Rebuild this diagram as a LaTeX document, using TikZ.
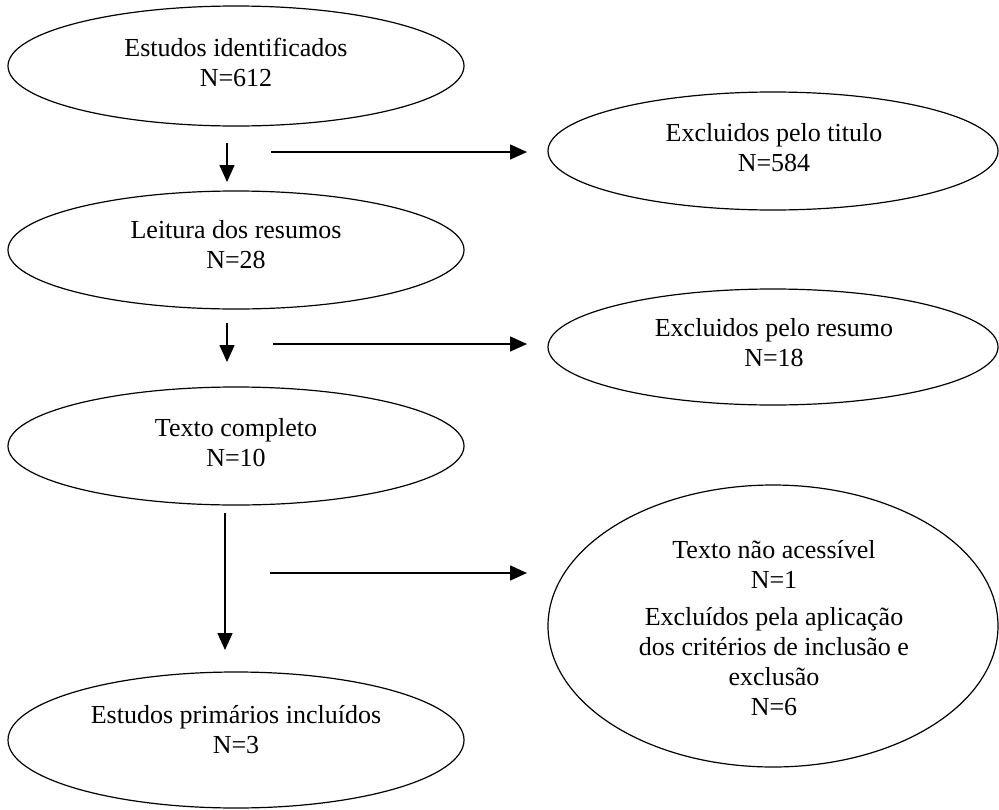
\documentclass[tikz,border=0pt]{standalone}
\usepackage{fontspec}
\setmainfont{Liberation Serif}
\usetikzlibrary{shapes.geometric,arrows.meta}
\begin{document}
\begin{tikzpicture}[x=1pt,y=-1pt,
  ell/.style={draw, ellipse, line width=1.2pt, inner sep=0pt},
  txt/.style={align=center, font=\fontsize{26}{30}\selectfont, inner sep=0pt},
  arr/.style={line width=1.5pt, -{Triangle[length=17pt,width=15pt]}}]
\useasboundingbox (0,0) rectangle (999,809);
% ellipses
\node[ell, minimum width=456pt, minimum height=120pt] (e1) at (236,66) {};
\node[ell, minimum width=450pt, minimum height=118pt] (e2) at (773,151) {};
\node[ell, minimum width=456pt, minimum height=118pt] (e3) at (236,250) {};
\node[ell, minimum width=450pt, minimum height=116pt] (e4) at (773,347) {};
\node[ell, minimum width=456pt, minimum height=118pt] (e5) at (236,446) {};
\node[ell, minimum width=450pt, minimum height=282pt] (e6) at (773,626) {};
\node[ell, minimum width=456pt, minimum height=136pt] (e7) at (236,740) {};
% texts
\node[txt] (t1) at (236,62) {Estudos identificados\\N=612};
\node[txt] (t2) at (774,147.5) {Excluidos pelo titulo\\N=584};
\node[txt] (t3) at (236,245) {Leitura dos resumos\\N=28};
\node[txt] (t4) at (774,343) {Excluidos pelo resumo\\N=18};
\node[txt] (t5) at (236,442.5) {Texto completo\\N=10};
\node[txt] (t6) at (774,628) {Texto não acessível\\N=1\\[7pt]Excluídos pela aplicação\\dos critérios de inclusão e\\exclusão\\N=6};
\node[txt] (t7) at (236,730) {Estudos primários incluídos\\N=3};
% arrow end points
\coordinate (a1s) at (227,143); \coordinate (a1e) at (227,182);
\coordinate (h1s) at (271,152); \coordinate (h1e) at (527,152);
\coordinate (a2s) at (227,323); \coordinate (a2e) at (227,362);
\coordinate (h2s) at (273,344); \coordinate (h2e) at (527,344);
\coordinate (a3s) at (225,513); \coordinate (a3e) at (225,650);
\coordinate (h3s) at (270,573); \coordinate (h3e) at (527,573);
\draw[arr] (a1s) -- (a1e);
\draw[arr] (h1s) -- (h1e);
\draw[arr] (a2s) -- (a2e);
\draw[arr] (h2s) -- (h2e);
\draw[arr] (a3s) -- (a3e);
\draw[arr] (h3s) -- (h3e);
\end{tikzpicture}
\end{document}
